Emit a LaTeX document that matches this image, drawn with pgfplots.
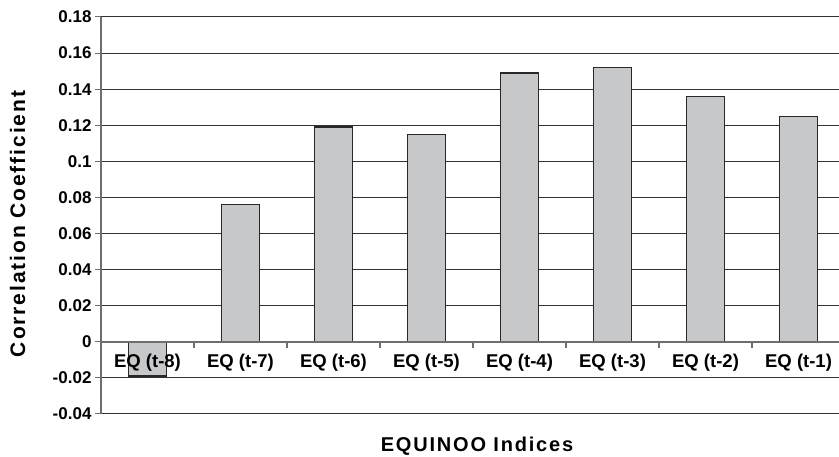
\documentclass[border=0pt]{standalone}
\usepackage{fontspec}
\setmainfont{Liberation Sans}
\newfontfamily\spacedfont{Liberation Sans}[LetterSpace=9]
\usepackage{pgfplots}
\pgfplotsset{compat=1.18}
\definecolor{barfill}{RGB}{199,200,202}
\definecolor{baredge}{RGB}{40,40,40}
\definecolor{gridc}{RGB}{50,50,50}
\definecolor{axisc}{RGB}{110,110,110}
\pgfplotsset{
  commongeom/.style={
    at={(101pt,43pt)}, anchor=south west,
    scale only axis, width=738pt, height=397pt,
    xmin=-0.5, xmax=7.435, ymin=-0.04, ymax=0.18,
  }
}
\begin{document}
\begin{tikzpicture}[x=1pt,y=1pt]
\useasboundingbox (0,0) rectangle (839,457);
\begin{axis}[
  commongeom,
  ybar, bar width=38pt,
  axis x line*=bottom, axis y line*=left,
  x axis line style={gridc, line width=1pt},
  y axis line style={axisc, line width=1.5pt},
  xtick={0,1,2,3,4,5,6,7},
  xticklabels={},
  xtick style={draw=none},
  ytick={-0.04,-0.02,0,0.02,0.04,0.06,0.08,0.1,0.12,0.14,0.16,0.18},
  yticklabels={-0.04,-0.02,0,0.02,0.04,0.06,0.08,0.1,0.12,0.14,0.16,0.18},
  tick align=outside, major tick length=6pt,
  ytick style={axisc, line width=1pt},
  yticklabel style={font=\bfseries\fontsize{17}{20}\selectfont},
  /pgf/number format/assume math mode=true,
  ymajorgrids, grid style={gridc, line width=1pt},
  xlabel={\spacedfont\bfseries EQUINOO Indices},
  xlabel style={at={(axis description cs:0.5095,-0.0806)}, anchor=center, font=\fontsize{20}{24}\selectfont},
  ylabel={\spacedfont\bfseries Correlation Coefficient},
  ylabel style={at={(axis description cs:-0.1131,0.4786)}, anchor=center, font=\fontsize{21}{25}\selectfont},
]
\addplot[fill=barfill, draw=baredge, line width=1.3pt] coordinates {
  (0,-0.019) (1,0.076) (2,0.119) (3,0.115) (4,0.149) (5,0.152) (6,0.136) (7,0.125)};
\draw[axisc, line width=1.5pt] (axis cs:-0.5,0) -- (axis cs:7.435,0);
\pgfplotsinvokeforeach{0.5,1.5,2.5,3.5,4.5,5.5,6.5}{
  \draw[axisc, line width=1.2pt] (axis cs:#1,0) -- (axis cs:#1,-0.0034);
}
\end{axis}
\begin{axis}[
  commongeom,
  axis x line*=bottom, axis y line=none,
  x axis line style={draw=none},
  xtick={0,1,2,3,4,5,6,7},
  xticklabels={EQ (t-8),EQ (t-7),EQ (t-6),EQ (t-5),EQ (t-4),EQ (t-3),EQ (t-2),EQ (t-1)},
  xtick style={draw=none},
  xticklabel style={font=\bfseries\fontsize{18.5}{22}\selectfont, anchor=base, yshift=46pt},
  ytick=\empty,
]
\end{axis}
\end{tikzpicture}
\end{document}
